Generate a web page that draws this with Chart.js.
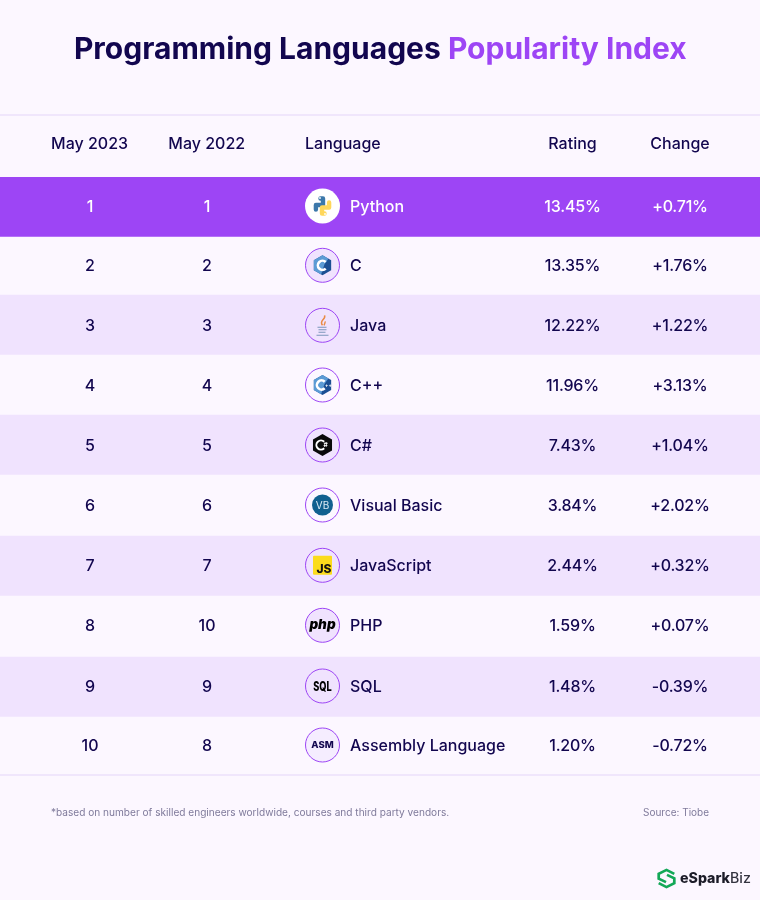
<!DOCTYPE html>
<html><head><meta charset="utf-8">
<script src="https://cdn.jsdelivr.net/npm/chart.js@4"></script>
<style>html,body{margin:0;padding:0;background:#fcf7ff}#w{position:relative;width:760px;height:900px}canvas{display:block}</style>
</head><body><div id="w"><canvas id="c" width="760" height="900"></canvas></div>
<script>
const may2023=[1,2,3,4,5,6,7,8,9,10];
const may2022=[1,2,3,4,5,6,7,10,9,8];
const languages=["Python","C","Java","C++","C#","Visual Basic","JavaScript","PHP","SQL","Assembly Language"];
const ratings=[13.45,13.35,12.22,11.96,7.43,3.84,2.44,1.59,1.48,1.20];
const changes=["+0.71%","+1.76%","+1.22%","+3.13%","+1.04%","+2.02%","+0.32%","+0.07%","-0.39%","-0.72%"];
const headers=["May 2023","May 2022","Language","Rating","Change"];
const titleA="Programming Languages ", titleB="Popularity Index";
const footNote="*based on number of skilled engineers worldwide, courses and third party vendors.";
const source="Source: Tiobe";
const brandA="eSpark", brandB="Biz";
const BG="#fcf7ff", LAV="#f0e3fe", F="Inter, sans-serif", INK="#12064f", PUR="#9d45f5";
const bandColors=[PUR,BG,LAV,BG,LAV,BG,LAV,BG,LAV,BG];
const iconFills=["#ffffff",LAV,LAV,BG,LAV,BG,LAV,LAV,LAV,"#f5edff"];
const rowEdges=[177,237,295,355,415,475,536,596,657,717,774];
const rowCentres=[206,265.3,325.3,385,445,505,565.3,625.3,686,745];
const COLS={c23:90,c22:207,h23:89.6,h22:206.7,lang:305,rate:572.5,chg:680};
const IX=322.5;
function circle(x,cx,cy,r,fill,stroke,lw){x.beginPath();x.arc(cx,cy,r,0,7);x.fillStyle=fill;x.fill();if(stroke){x.strokeStyle=stroke;x.lineWidth=lw||1;x.stroke();}}
function hexPath(x,cx,cy,r){x.beginPath();for(let i=0;i<6;i++){const a=Math.PI/6+i*Math.PI/3;x[i?'lineTo':'moveTo'](cx+r*Math.cos(a),cy+r*Math.sin(a));}x.closePath();}
function hex(x,cx,cy,r,fill){hexPath(x,cx,cy,r);x.fillStyle=fill;x.fill();}
function cLogo(x,cx,cy,label){
 hex(x,cx,cy,10,'#1b4f93');
 x.save();hexPath(x,cx,cy,10);x.clip();x.fillStyle='#5b9bd5';x.beginPath();x.moveTo(cx-10,cy-11);x.lineTo(cx+9,cy-11);x.lineTo(cx+2,cy-1);x.lineTo(cx-2,cy+11);x.lineTo(cx-10,cy+11);x.closePath();x.fill();x.restore();
 x.beginPath();x.arc(label?cx-1:cx,cy,4.6,0.8,Math.PI*2-0.8);x.strokeStyle='#fff';x.lineWidth=2.6;x.stroke();
 if(label){x.fillStyle='#fff';x.font='700 5px '+F;x.textAlign='left';x.textBaseline='middle';x.fillText(label,cx+2.5,cy+.5);}}
const icons={
 "Python":(x,cx,cy)=>{x.lineCap='round';x.lineJoin='round';x.lineWidth=4.4;x.strokeStyle='#3c78aa';x.beginPath();x.moveTo(cx-6.6,cy+3.5);x.lineTo(cx-6.6,cy-1);x.lineTo(cx+.5,cy-1);x.lineTo(cx+.5,cy-7.5);x.lineTo(cx-2,cy-7.5);x.stroke();
  x.strokeStyle='#ffd75a';x.beginPath();x.moveTo(cx+6.6,cy-3.5);x.lineTo(cx+6.6,cy+1.5);x.lineTo(cx-.5,cy+1.5);x.lineTo(cx-.5,cy+7.5);x.lineTo(cx+2,cy+7.5);x.stroke();x.lineCap='butt';
  circle(x,cx-2.5,cy-8,.9,'#fff');circle(x,cx+2.5,cy+8,.9,'#fff');},
 "C":(x,cx,cy)=>cLogo(x,cx,cy,''),
 "Java":(x,cx,cy)=>{x.strokeStyle='#e98a45';x.lineWidth=1.5;x.beginPath();x.moveTo(cx+2,cy-10);x.bezierCurveTo(cx+4,cy-6,cx-4,cy-5,cx,cy);x.moveTo(cx+2.5,cy-4);x.bezierCurveTo(cx+3,cy-3,cx+2,cy-1,cx+1.5,cy);x.stroke();
  x.strokeStyle='#7b97bb';x.lineWidth=1.1;x.beginPath();x.moveTo(cx-5,cy+2);x.lineTo(cx+4,cy+2);x.moveTo(cx-4,cy+4.5);x.lineTo(cx+4,cy+4.5);x.moveTo(cx-4,cy+7);x.lineTo(cx+3,cy+7);x.moveTo(cx-6,cy+10);x.lineTo(cx+6,cy+10);x.stroke();},
 "C++":(x,cx,cy)=>cLogo(x,cx,cy,'++'),
 "C#":(x,cx,cy)=>{hex(x,cx,cy,11,'#0a0a0a');x.beginPath();x.arc(cx-1.5,cy,4.6,0.8,Math.PI*2-0.8);x.strokeStyle='#fff';x.lineWidth=2;x.stroke();x.fillStyle='#fff';x.font='700 6.5px '+F;x.textAlign='center';x.textBaseline='middle';x.fillText('#',cx+3,cy+.5);},
 "Visual Basic":(x,cx,cy)=>{circle(x,cx,cy,10.5,'#11608f');x.fillStyle='#dcebf6';x.font='400 10px '+F;x.textAlign='center';x.textBaseline='middle';x.fillText('VB',cx,cy+.5);},
 "JavaScript":(x,cx,cy)=>{x.fillStyle='#fbdc1c';x.beginPath();x.roundRect(cx-9.5,cy-9.5,19,19,1);x.fill();x.fillStyle='#111';x.font='800 12px '+F;x.textAlign='center';x.textBaseline='middle';x.fillText('JS',cx+1.5,cy+4);},
 "PHP":(x,cx,cy)=>{x.fillStyle='#000';x.font='italic 900 13.5px '+F;x.textAlign='center';x.textBaseline='middle';x.fillText('php',cx,cy-.5);},
 "SQL":(x,cx,cy)=>{x.fillStyle='#000';x.font='800 11px '+F;x.textAlign='center';x.textBaseline='middle';x.translate(cx,cy);x.scale(.84,1.2);x.fillText('SQL',0,.5);},
 "Assembly Language":(x,cx,cy)=>{x.fillStyle='#12064f';x.font='800 9.5px '+F;x.textAlign='center';x.textBaseline='middle';x.fillText('ASM',cx,cy+.5);}
};
function brandMark(x,cx,cy){x.strokeStyle='#13a857';x.lineWidth=2.7;x.lineJoin='miter';
 x.beginPath();x.moveTo(cx+7.8,cy-4.6);x.lineTo(cx,cy-8.6);x.lineTo(cx-7.8,cy-4.6);x.lineTo(cx-7.8,cy+.2);x.lineTo(cx-.5,cy+3.6);x.stroke();
 x.beginPath();x.moveTo(cx-7.8,cy+4.6);x.lineTo(cx,cy+8.6);x.lineTo(cx+7.8,cy+4.6);x.lineTo(cx+7.8,cy-.2);x.lineTo(cx+.5,cy-3.6);x.stroke();}
const tablePlugin={id:'table',
 afterDatasetsUpdate(chart){chart.getDatasetMeta(0).data.forEach((b,i)=>{b.y=(rowEdges[i]+rowEdges[i+1])/2;b.height=rowEdges[i+1]-rowEdges[i];});},
 afterDraw(chart){const x=chart.ctx;x.save();
  x.textBaseline='alphabetic';x.textAlign='left';
  x.font='700 30px '+F;const wa=x.measureText(titleA).width,wb=x.measureText(titleB).width;let sx=380.3-(wa+wb)/2;
  x.fillStyle=INK;x.fillText(titleA,sx,59.25);x.fillStyle=PUR;x.fillText(titleB,sx+wa,59.25);
  x.strokeStyle='#f0e6fc';x.lineWidth=2;x.beginPath();x.moveTo(0,115);x.lineTo(760,115);x.moveTo(0,775);x.lineTo(760,775);x.stroke();
  x.font='500 16px '+F;x.fillStyle=INK;x.textBaseline='middle';
  x.textAlign='center';x.fillText(headers[0],COLS.h23,144);x.fillText(headers[1],COLS.h22,144);
  x.textAlign='left';x.fillText(headers[2],COLS.lang,144);
  x.textAlign='center';x.fillText(headers[3],COLS.rate,144);x.fillText(headers[4],COLS.chg,144);
  languages.forEach((l,i)=>{const cy=rowCentres[i],ty=cy+1;const col=i===0?'#fff':INK;
   x.font='500 16px '+F;x.fillStyle=col;x.textBaseline='middle';x.textAlign='center';
   x.fillText(String(may2023[i]),COLS.c23,ty);x.fillText(String(may2022[i]),COLS.c22,ty);
   x.letterSpacing='-0.2px';
   x.fillText(ratings[i].toFixed(2)+'%',COLS.rate,ty);x.fillText(changes[i],COLS.chg,ty);
   x.letterSpacing='0px';
   x.textAlign='left';x.fillText(l,350,ty);
   if(i===0)circle(x,IX,cy,17.5,'#fff');else circle(x,IX,cy,17,iconFills[i],PUR,1);
   x.save();icons[l](x,IX,cy);x.restore();
  });
  x.textBaseline='alphabetic';x.font='400 10.1px '+F;x.fillStyle='#7f7a9b';x.textAlign='left';x.fillText(footNote,51,816);
  x.textAlign='right';x.font='400 10px '+F;x.fillText(source,709,816);
  x.textAlign='left';x.font='800 14.2px '+F;x.fillStyle='#1c1c28';x.fillText(brandA,680,883);
  const w=x.measureText(brandA).width;x.font='500 14.2px '+F;x.fillStyle='#33333f';x.fillText(brandB,680+w,883);
  brandMark(x,666.5,878.5);
  x.restore();}
};
new Chart(document.getElementById('c'),{type:'bar',
 data:{labels:languages,datasets:[{label:'Rows',data:languages.map(()=>1),backgroundColor:bandColors,borderWidth:0,barPercentage:1,categoryPercentage:1}]},
 options:{indexAxis:'y',responsive:false,animation:false,devicePixelRatio:1,
  layout:{padding:{top:177,bottom:126,left:0,right:0}},
  plugins:{legend:{display:false},tooltip:{enabled:false}},
  scales:{x:{display:false,min:0,max:1,grid:{display:false}},y:{display:false,grid:{display:false}}}},
 plugins:[tablePlugin]});
</script></body></html>
